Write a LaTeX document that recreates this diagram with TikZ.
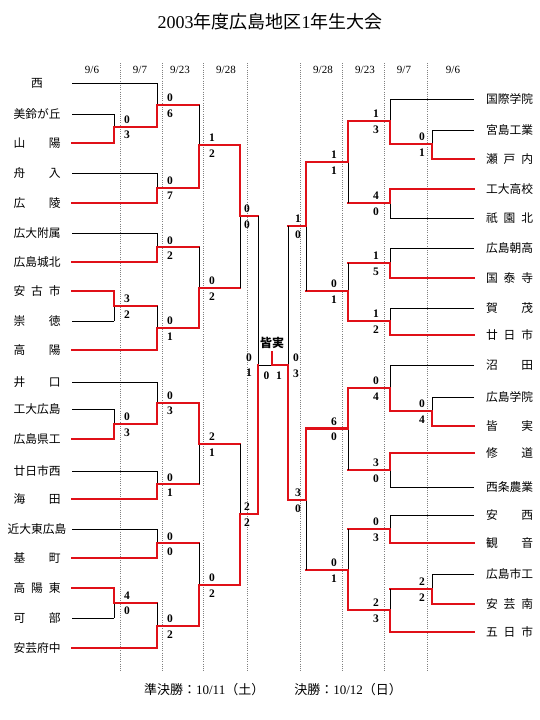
\documentclass[tikz,border=0pt]{standalone}
\usepackage{fontspec}
\setmainfont{Liberation Serif}
\newfontfamily\cjk{Noto Sans CJK JP}
\definecolor{wred}{HTML}{E01018}
\tikzset{
  blk/.style={line width=0.9pt, black},
  win/.style={line width=2.3pt, wred, line cap=rect},
  dotline/.style={gray, line width=0.8pt, dash pattern=on 0.8pt off 1.4pt},
  sc/.style={font=\fontsize{11.5}{12}\selectfont\bfseries, inner sep=0pt},
  nm/.style={font=\fontsize{11.75}{13}\selectfont\cjk, inner sep=0pt},
  dt/.style={font=\fontsize{11}{12}\selectfont, inner sep=0pt},
}
\newcommand\nb[1]{\makebox[47pt]{#1}}
% #1 x, #2 ytop, #3 ybot, #4 ymid, #5 winner t/b, #6 next x, #7 score x, #8 top score, #9 bottom score
\newcommand\mt[9]{%
  \if t#5
    \draw[blk] (#1,#3) -- (#1,#4);
    \draw[win] (#1,#2) -- (#1,#4) -- (#6,#4);
  \else
    \draw[blk] (#1,#2) -- (#1,#4);
    \draw[win] (#1,#3) -- (#1,#4) -- (#6,#4);
  \fi
  \node[sc] at (#7,{#4-7}) {#8};
  \node[sc] at (#7,{#4+8.5}) {#9};
}
% left team: name, y, vertical x, style, label
\newcommand\lt[5]{\node[nm] (#1) at (37,#2) {#5}; \draw[#4] (72,#2) -- (#3,#2);}
\newcommand\rt[5]{\node[nm] (#1) at (509.5,#2) {#5}; \draw[#4] (474,#2) -- (#3,#2);}
\begin{document}
\begin{tikzpicture}[x=1pt,y=-1pt]
\useasboundingbox (0,0) rectangle (540,720);
\fill[white] (0,0) rectangle (540,720);
% title
\node[inner sep=0pt, font=\fontsize{18}{20}\selectfont] (title) at (270,22) {2003{\cjk 年度広島地区}1{\cjk 年生大会}};
% footer
\node[inner sep=0pt, font=\fontsize{13}{15}\selectfont] (foot) at (273,690) {{\cjk 準決勝：}10/11{\cjk （土）}\hspace{30pt}{\cjk 決勝：}10/12{\cjk （日）}};
% dotted guides
\foreach \x in {120,162,203,247,300,342,384,427} \draw[dotline] (\x,63) -- (\x,671);
% dates
\node[dt] (d1) at (92,70) {9/6};
\node[dt] (d2) at (140,70) {9/7};
\node[dt] (d3) at (180,70) {9/23};
\node[dt] (d4) at (226,70) {9/28};
\node[dt] (d5) at (323,70) {9/28};
\node[dt] (d6) at (365,70) {9/23};
\node[dt] (d7) at (404,70) {9/7};
\node[dt] (d8) at (453,70) {9/6};
% left teams
\lt{l1}{83}{157}{blk}{\nb{西}}
\lt{l2}{114}{114}{blk}{\nb{美\hfill 鈴\hfill が\hfill 丘}}
\lt{l3}{143}{114}{win}{\nb{山\hfill 陽}}
\lt{l4}{173}{157}{blk}{\nb{舟\hfill 入}}
\lt{l5}{203}{157}{win}{\nb{広\hfill 陵}}
\lt{l6}{233}{157}{blk}{\nb{広\hfill 大\hfill 附\hfill 属}}
\lt{l7}{262}{157}{win}{\nb{広\hfill 島\hfill 城\hfill 北}}
\lt{l8}{291}{114}{win}{\nb{安\hfill 古\hfill 市}}
\lt{l9}{321}{114}{blk}{\nb{崇\hfill 徳}}
\lt{l10}{350}{157}{win}{\nb{高\hfill 陽}}
\lt{l11}{382}{157}{blk}{\nb{井\hfill 口}}
\lt{l12}{409}{114}{blk}{\nb{工\hfill 大\hfill 広\hfill 島}}
\lt{l13}{439}{114}{win}{\nb{広\hfill 島\hfill 県\hfill 工}}
\lt{l14}{471}{157}{blk}{\nb{廿\hfill 日\hfill 市\hfill 西}}
\lt{l15}{499}{157}{win}{\nb{海\hfill 田}}
\lt{l16}{529}{157}{blk}{近大東広島}
\lt{l17}{558}{157}{win}{\nb{基\hfill 町}}
\lt{l18}{588}{114}{win}{\nb{高\hfill 陽\hfill 東}}
\lt{l19}{618}{114}{blk}{\nb{可\hfill 部}}
\lt{l20}{648}{157}{win}{\nb{安\hfill 芸\hfill 府\hfill 中}}
% right teams
\rt{r1}{99}{390}{blk}{\nb{国\hfill 際\hfill 学\hfill 院}}
\rt{r2}{130}{432}{blk}{\nb{宮\hfill 島\hfill 工\hfill 業}}
\rt{r3}{159}{432}{win}{\nb{瀬\hfill 戸\hfill 内}}
\rt{r4}{189}{390}{win}{\nb{工\hfill 大\hfill 高\hfill 校}}
\rt{r5}{218}{390}{blk}{\nb{祇\hfill 園\hfill 北}}
\rt{r6}{248}{390}{blk}{\nb{広\hfill 島\hfill 朝\hfill 高}}
\rt{r7}{278}{390}{win}{\nb{国\hfill 泰\hfill 寺}}
\rt{r8}{308}{390}{blk}{\nb{賀\hfill 茂}}
\rt{r9}{335}{390}{win}{\nb{廿\hfill 日\hfill 市}}
\rt{r10}{365}{390}{blk}{\nb{沼\hfill 田}}
\rt{r11}{397}{432}{blk}{\nb{広\hfill 島\hfill 学\hfill 院}}
\rt{r12}{426}{432}{win}{\nb{皆\hfill 実}}
\rt{r13}{453}{390}{win}{\nb{修\hfill 道}}
\rt{r14}{487}{390}{blk}{\nb{西\hfill 条\hfill 農\hfill 業}}
\rt{r15}{515}{390}{blk}{\nb{安\hfill 西}}
\rt{r16}{543}{390}{win}{\nb{観\hfill 音}}
\rt{r17}{574}{432}{blk}{\nb{広\hfill 島\hfill 市\hfill 工}}
\rt{r18}{604}{432}{win}{\nb{安\hfill 芸\hfill 南}}
\rt{r19}{632}{390}{win}{\nb{五\hfill 日\hfill 市}}
% left round 1
\mt{114}{114}{143}{126.7}{b}{157}{127}{0}{3}
\mt{114}{291}{321}{305.7}{t}{157}{127}{3}{2}
\mt{114}{409}{439}{424}{b}{157}{127}{0}{3}
\mt{114}{588}{618}{602.7}{t}{157}{127}{4}{0}
% left round 2
\mt{157}{83}{126.7}{105}{b}{199}{170}{0}{6}
\mt{157}{173}{203}{187.7}{b}{199}{170}{0}{7}
\mt{157}{233}{262}{247.3}{b}{199}{170}{0}{2}
\mt{157}{305.7}{350}{327.7}{b}{199}{170}{0}{1}
\mt{157}{382}{424}{402.7}{b}{199}{170}{0}{3}
\mt{157}{471}{499}{484.3}{b}{199}{170}{0}{1}
\mt{157}{529}{558}{543.3}{b}{199}{170}{0}{0}
\mt{157}{602.7}{648}{626}{b}{199}{170}{0}{2}
% left round 3
\mt{199}{105}{187.7}{145}{b}{240}{212}{1}{2}
\mt{199}{247.3}{327.7}{287.7}{b}{240}{212}{0}{2}
\mt{199}{402.7}{484.3}{444}{t}{240}{212}{2}{1}
\mt{199}{543.3}{626}{585}{b}{240}{212}{0}{2}
% left round 4
\mt{240}{145}{287.7}{216}{t}{258}{247}{0}{0}
\mt{240}{444}{585}{514}{b}{258}{247}{2}{2}
% right round 1
\mt{432}{130}{159}{144}{b}{390}{422}{0}{1}
\mt{432}{397}{426}{411}{b}{390}{422}{0}{4}
\mt{432}{574}{604}{589}{b}{390}{422}{2}{2}
% right round 2
\mt{390}{99}{144}{121}{b}{348}{376}{1}{3}
\mt{390}{189}{218}{203}{t}{348}{376}{4}{0}
\mt{390}{248}{278}{263}{b}{348}{376}{1}{5}
\mt{390}{308}{335}{321}{b}{348}{376}{1}{2}
\mt{390}{365}{411}{388}{b}{348}{376}{0}{4}
\mt{390}{453}{487}{470}{t}{348}{376}{3}{0}
\mt{390}{515}{543}{529}{b}{348}{376}{0}{3}
\mt{390}{589}{632}{610}{b}{348}{376}{2}{3}
% right round 3
\mt{348}{121}{203}{162}{t}{306}{334}{1}{1}
\mt{348}{263}{321}{291}{b}{306}{334}{0}{1}
\mt{348}{388}{470}{428.5}{t}{306}{334}{6}{0}
\mt{348}{529}{610}{570}{b}{306}{334}{0}{1}
% right round 4
\mt{306}{162}{291}{226}{t}{288}{298}{1}{0}
\mt{306}{428.5}{570}{500}{t}{288}{298}{3}{0}
% semifinals and final
\coordinate (fl) at (258,365);
\coordinate (fc) at (272,365);
\coordinate (fr) at (288,365);
\coordinate (fs) at (272,352);
\draw[blk] (258,216) -- (fl) -- (fc);
\draw[win] (258,514) -- (fl);
\draw[blk] (288,226) -- (fr);
\draw[win] (288,500) -- (fr) -- (fc) -- (fs);
\node[sc] (sl1) at (249,358) {0};
\node[sc] (sl2) at (249,373) {1};
\node[sc] (sr1) at (296,358) {0};
\node[sc] (sr2) at (296,374) {3};
\node[sc] (f1) at (266.5,375.5) {0};
\node[sc] (f2) at (279,375.5) {1};
\node[inner sep=0pt, font=\fontsize{12}{13}\selectfont\cjk\bfseries] (champ) at (272,343) {皆実};
\end{tikzpicture}
\end{document}
